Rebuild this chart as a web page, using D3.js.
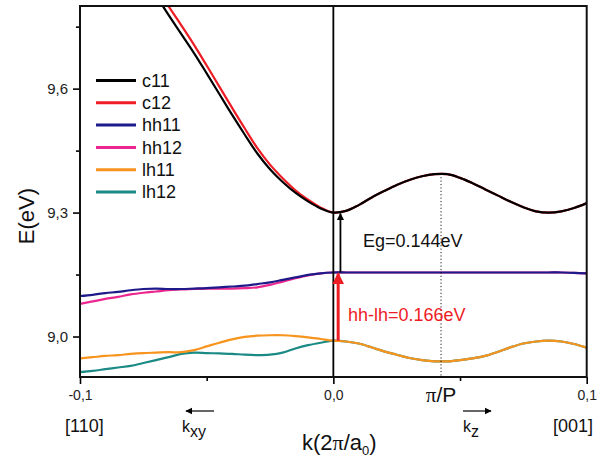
<!DOCTYPE html>
<html>
<head>
<meta charset="utf-8">
<script src="https://cdn.jsdelivr.net/npm/d3@7"></script>
<style>
  html, body { margin: 0; padding: 0; background: #fff; }
  svg { display: block; font-family: "Liberation Sans", Arial, sans-serif; }
</style>
</head>
<body>
<svg id="chart" width="608" height="462"></svg>
<script>
// ---- data ----
const kGrid = [-0.100,-0.095,-0.090,-0.085,-0.080,-0.075,-0.070,-0.065,-0.060,-0.055,-0.050,-0.045,-0.040,-0.035,-0.030,-0.025,-0.020,-0.015,-0.010,-0.005,
  0.000,0.005,0.010,0.015,0.020,0.025,0.030,0.035,0.040,0.045,0.050,0.055,0.060,0.065,0.070,0.075,0.080,0.085,0.090,0.095,0.100];

const c11 = [10.12,10.07,10.02,9.97,9.92,9.873,9.825,9.778,9.732,9.686,9.637,9.587,9.537,9.489,9.443,9.405,9.374,9.348,9.327,9.310,
  9.300,9.304,9.318,9.336,9.352,9.367,9.379,9.388,9.393,9.393,9.384,9.371,9.356,9.341,9.326,9.313,9.303,9.300,9.303,9.311,9.323];
const c12 = [10.142,10.092,10.042,9.992,9.942,9.895,9.847,9.799,9.753,9.706,9.656,9.605,9.554,9.504,9.456,9.416,9.383,9.354,9.331,9.312,
  9.300,9.304,9.318,9.336,9.352,9.367,9.379,9.388,9.393,9.393,9.384,9.371,9.356,9.341,9.326,9.313,9.303,9.300,9.303,9.311,9.323];
const hh11 = [9.098,9.101,9.105,9.108,9.112,9.115,9.116,9.115,9.115,9.116,9.117,9.119,9.121,9.123,9.127,9.131,9.137,9.143,9.149,9.153,
  9.155,9.155,9.155,9.155,9.155,9.155,9.155,9.155,9.155,9.155,9.155,9.155,9.155,9.155,9.155,9.155,9.155,9.155,9.155,9.154,9.153];
const hh12 = [9.079,9.085,9.091,9.096,9.102,9.106,9.109,9.112,9.114,9.115,9.116,9.116,9.116,9.117,9.119,9.125,9.133,9.141,9.148,9.153,
  9.155,9.155,9.155,9.155,9.155,9.155,9.155,9.155,9.155,9.155,9.155,9.155,9.155,9.155,9.155,9.155,9.155,9.155,9.155,9.154,9.153];
const lh11 = [8.947,8.950,8.953,8.955,8.958,8.960,8.961,8.962,8.962,8.967,8.976,8.985,8.993,8.999,9.002,9.003,9.003,9.001,8.998,8.994,
  8.990,8.988,8.983,8.974,8.964,8.956,8.948,8.943,8.940,8.940,8.943,8.947,8.953,8.963,8.974,8.983,8.988,8.990,8.988,8.982,8.973];
const lh12 = [8.914,8.917,8.921,8.925,8.929,8.936,8.943,8.950,8.958,8.961,8.960,8.959,8.958,8.956,8.955,8.956,8.961,8.971,8.979,8.985,
  8.990,8.988,8.983,8.974,8.964,8.956,8.948,8.943,8.940,8.940,8.943,8.947,8.953,8.963,8.974,8.983,8.988,8.990,8.988,8.982,8.973];

const seriesNames  = ["c11","c12","hh11","hh12","lh11","lh12"];
const seriesValues = [c11, c12, hh11, hh12, lh11, lh12];
const seriesColors = ["#000000","#ee1c24","#1f1a8a","#ec268f","#f7941d","#1b8a84"];
const drawOrder    = ["hh12","hh11","lh12","lh11","c12","c11"];

const yTickValues = [9.0, 9.3, 9.6];
const yMinorTicks = [9.15, 9.45, 9.75];
const xTickValues = [-0.1, 0.0, 0.1];
const xMinorTicks = [-0.05, 0.05];

const piOverP = 0.0425;          // position of the π/P marker
const gapC = 9.300, gapHH = 9.155, gapLH = 8.990;
const egLabel = "Eg=0.144eV";
const hhlhLabel = "hh-lh=0.166eV";

// ---- layout ----
const svg = d3.select("#chart");
const L = 80, R = 586.7, T = 6, B = 377;
const x = d3.scaleLinear().domain([-0.1, 0.1]).range([L, R]);
const y = d3.scaleLinear().domain([8.902, 9.8]).range([B, T]);
const fmt = v => d3.format(".1f")(v).replace(".", ",").replace("\u2212", "-");

svg.append("defs").append("clipPath").attr("id", "clip")
  .append("rect").attr("x", L).attr("y", T).attr("width", R - L).attr("height", B - T);

const defs = svg.select("defs");
function marker(id, color, size) {
  defs.append("marker").attr("id", id).attr("viewBox", "0 0 10 10")
    .attr("refX", 9).attr("refY", 5).attr("markerWidth", size).attr("markerHeight", size)
    .attr("markerUnits", "strokeWidth").attr("orient", "auto")
    .append("path").attr("d", "M0,0 L10,5 L0,10 z").attr("fill", color);
}
marker("ahBlack", "#000", 4);
marker("ahRed", "#ee1c24", 4);
marker("ahSmall", "#000", 6);

// ---- axes ----
const yAxis = svg.append("g").attr("transform", `translate(${L},0)`)
  .call(d3.axisLeft(y).tickValues(yTickValues).tickFormat(fmt).tickSize(7).tickPadding(5));
const yAxisMinor = svg.append("g").attr("transform", `translate(${L},0)`)
  .call(d3.axisLeft(y).tickValues(yMinorTicks).tickFormat("").tickSize(4));
const xAxis = svg.append("g").attr("transform", `translate(0,${B})`)
  .call(d3.axisBottom(x).tickValues(xTickValues).tickFormat(fmt).tickSize(7).tickPadding(6));
const xAxisMinor = svg.append("g").attr("transform", `translate(0,${B})`)
  .call(d3.axisBottom(x).tickValues(xMinorTicks).tickFormat("").tickSize(4));
[yAxis, yAxisMinor, xAxis, xAxisMinor].forEach(g => {
  g.select(".domain").remove();
  g.selectAll(".tick line").attr("stroke", "#000").attr("stroke-width", 1.6);
  g.selectAll("text").attr("fill", "#222").style("font-family", "Liberation Sans, Arial, sans-serif");
});
yAxis.selectAll("text").style("font-size", "15px");
xAxis.selectAll("text").style("font-size", "14px");

// ---- curves ----
const line = d3.line().x((d) => x(d[0])).y(d => y(d[1])).curve(d3.curveCatmullRom.alpha(0.5));
const plot = svg.append("g").attr("clip-path", "url(#clip)");
drawOrder.forEach(name => {
  const i = seriesNames.indexOf(name);
  const pts = kGrid.map((k, j) => [k, seriesValues[i][j]]);
  plot.append("path").datum(pts).attr("d", line)
    .attr("fill", "none").attr("stroke", seriesColors[i]).attr("stroke-width", 2.2)
    .attr("stroke-linejoin", "round");
});

// vertical line at k = 0
svg.append("line").attr("x1", x(0)).attr("x2", x(0)).attr("y1", T).attr("y2", B)
  .attr("stroke", "#000").attr("stroke-width", 1.8);

// dotted line at pi/P
const peakE = c11[kGrid.indexOf(0.040)];
svg.append("line").attr("x1", x(piOverP)).attr("x2", x(piOverP))
  .attr("y1", y(peakE) + 3).attr("y2", B)
  .attr("stroke", "#000").attr("stroke-width", 0.9).attr("stroke-dasharray", "1.2,2.2");

// frame
svg.append("rect").attr("x", L).attr("y", T).attr("width", R - L).attr("height", B - T)
  .attr("fill", "none").attr("stroke", "#111").attr("stroke-width", 2);

// gap arrows
svg.append("line").attr("x1", x(0.0028)).attr("x2", x(0.0028))
  .attr("y1", y(gapHH)).attr("y2", y(gapC) + 1)
  .attr("stroke", "#000").attr("stroke-width", 1.8).attr("marker-end", "url(#ahBlack)");
svg.append("line").attr("x1", x(0.0019)).attr("x2", x(0.0019))
  .attr("y1", y(gapLH)).attr("y2", y(gapHH) + 1)
  .attr("stroke", "#ee1c24").attr("stroke-width", 3).attr("marker-end", "url(#ahRed)");

svg.append("text").attr("x", 363).attr("y", 247).text(egLabel)
  .attr("font-size", 18).attr("fill", "#111");
svg.append("text").attr("x", 348).attr("y", 321).text(hhlhLabel)
  .attr("font-size", 18).attr("fill", "#ee1c24");

// ---- legend ----
const leg = svg.append("g");
seriesNames.forEach((n, i) => {
  const yy = 80.5 + i * 22.3;
  leg.append("line").attr("x1", 96).attr("x2", 136).attr("y1", yy).attr("y2", yy)
    .attr("stroke", seriesColors[i]).attr("stroke-width", 3);
  leg.append("text").attr("x", 142).attr("y", yy).attr("dy", "0.35em").text(n)
    .attr("font-size", 18).attr("fill", "#111");
});

// ---- axis titles & extra labels ----
svg.append("text").attr("transform", "translate(34,216) rotate(-90)")
  .attr("text-anchor", "middle").attr("font-size", 22).attr("fill", "#111").text("E(eV)");

const kt = svg.append("text").attr("x", 302).attr("y", 450).attr("font-size", 22).attr("fill", "#111");
kt.append("tspan").text("k(2");
kt.append("tspan").style("font-family", "Liberation Serif, Times New Roman, serif").text("\u03c0");
kt.append("tspan").text("/a");
kt.append("tspan").attr("font-size", 13).attr("dy", 5).text("0");
kt.append("tspan").attr("dy", -5).text(")");

const pp = svg.append("text").attr("x", x(piOverP)).attr("y", 402).attr("text-anchor", "middle")
  .attr("font-size", 21).attr("fill", "#111");
pp.append("tspan").style("font-family", "Liberation Serif, Times New Roman, serif").text("\u03c0");
pp.append("tspan").text("/P");

svg.append("text").attr("x", 65).attr("y", 432).attr("font-size", 18).attr("fill", "#111").text("[110]");
svg.append("text").attr("x", 593).attr("y", 432).attr("text-anchor", "end").attr("font-size", 18).attr("fill", "#111").text("[001]");

// direction arrows
svg.append("line").attr("x1", 214).attr("x2", 186).attr("y1", 411).attr("y2", 411)
  .attr("stroke", "#000").attr("stroke-width", 1.2).attr("marker-end", "url(#ahSmall)");
svg.append("line").attr("x1", 463).attr("x2", 491).attr("y1", 411).attr("y2", 411)
  .attr("stroke", "#000").attr("stroke-width", 1.2).attr("marker-end", "url(#ahSmall)");

const kxy = svg.append("text").attr("x", 182).attr("y", 432).attr("font-size", 16).attr("fill", "#111");
kxy.append("tspan").text("k");
kxy.append("tspan").attr("dy", 5).text("xy");
const kz = svg.append("text").attr("x", 463).attr("y", 432).attr("font-size", 16).attr("fill", "#111");
kz.append("tspan").text("k");
kz.append("tspan").attr("dy", 5).text("z");
</script>
</body>
</html>
